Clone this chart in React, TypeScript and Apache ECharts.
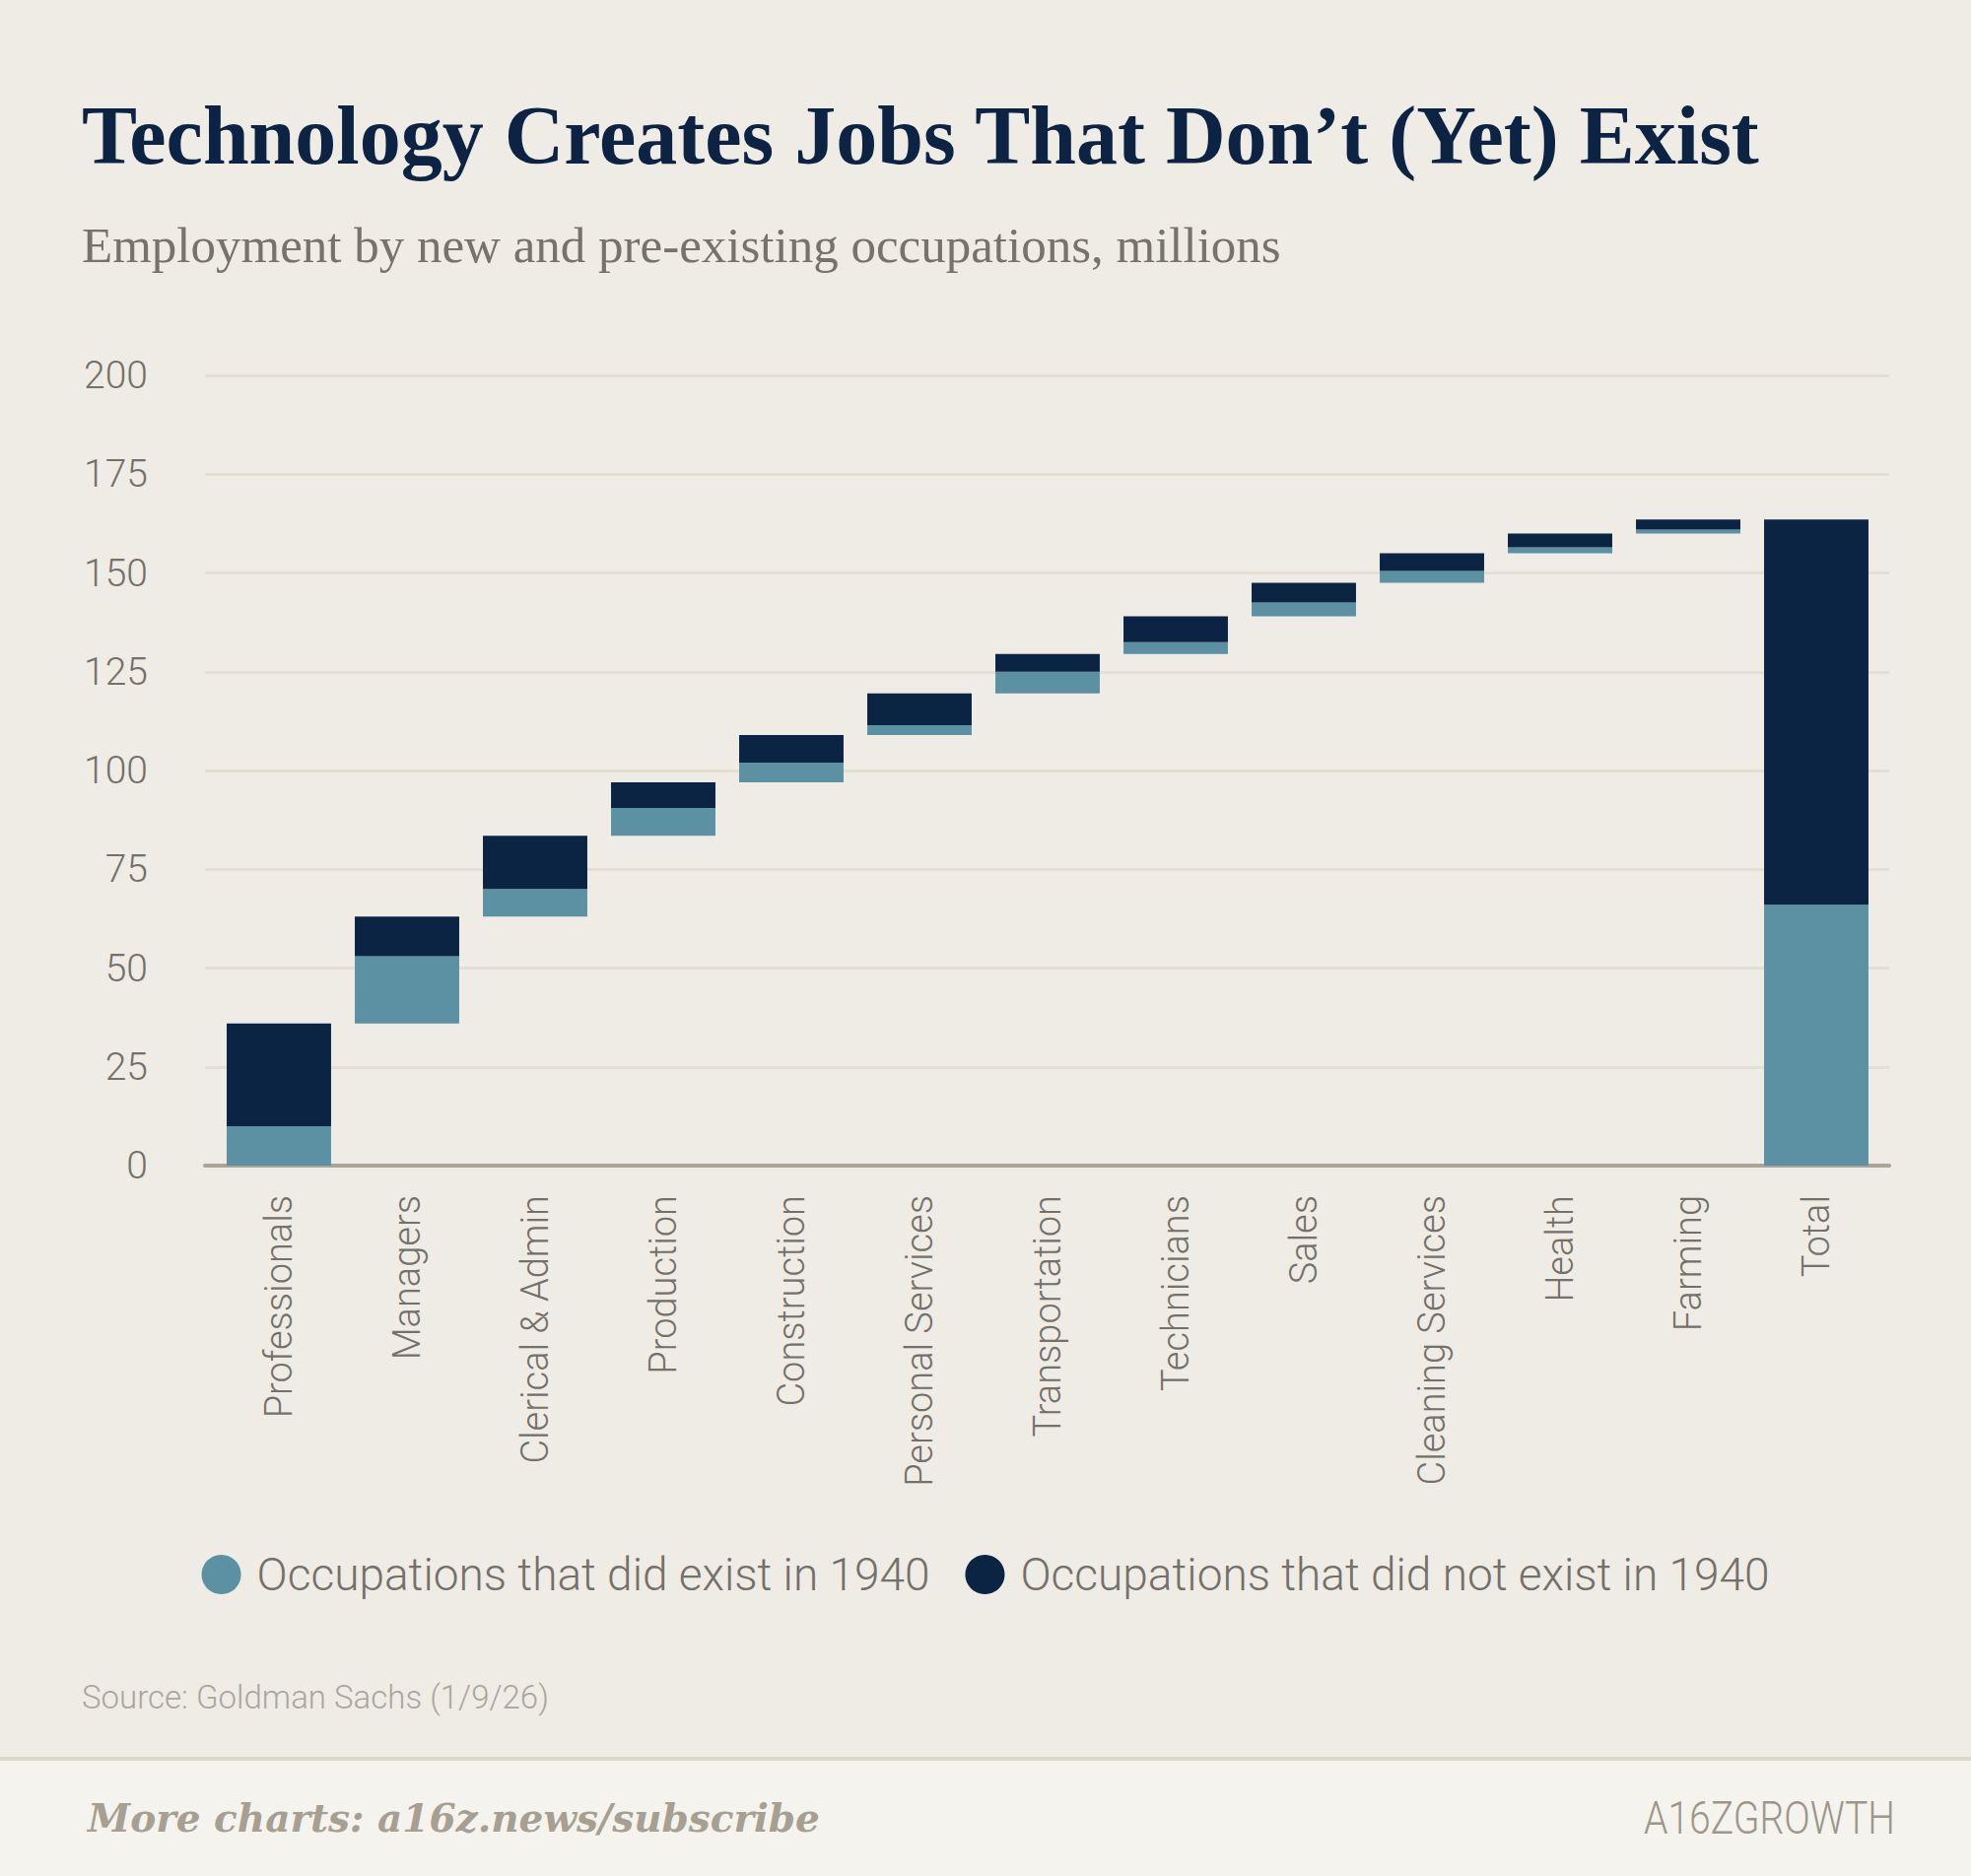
import * as echarts from "echarts";
import { useEffect, useRef } from "react";

// employment, millions
const occupations = [
  "Professionals",
  "Managers",
  "Clerical & Admin",
  "Production",
  "Construction",
  "Personal Services",
  "Transportation",
  "Technicians",
  "Sales",
  "Cleaning Services",
  "Health",
  "Farming",
];
const existed1940 = [10, 17, 7, 7, 5, 2.5, 5.5, 3, 3.5, 3, 1.5, 1];
const notExisted1940 = [26, 10, 13.5, 6.5, 7, 8, 4.5, 6.5, 5, 4.5, 3.5, 2.5];
const yTicks = { min: 0, max: 200, interval: 25 };

const sum = (a: number[]) => a.reduce((s, v) => s + v, 0);

const categories = [...occupations, "Total"];
const existedData = [...existed1940, sum(existed1940)];
const notExistedData = [...notExisted1940, sum(notExisted1940)];
// invisible floor under each waterfall step
const baseData: number[] = [];
let running = 0;
occupations.forEach((_, i) => {
  baseData.push(running);
  running += existed1940[i] + notExisted1940[i];
});
baseData.push(0);

const LIGHT = "#5c90a3";
const DARK = "#0b2444";
const GREY = "#74706a";

export default function App() {
  const chartRef = useRef<HTMLDivElement>(null);

  useEffect(() => {
    if (!chartRef.current) return;
    document.body.style.margin = "0";

    const chart = echarts.init(chartRef.current, null, { renderer: "svg" });

    const option: echarts.EChartsOption = {
      animation: false,
      backgroundColor: "#efece5",
      grid: [
        { left: 208, right: 83, top: 381, bottom: 721 },
        { left: 218, right: 92, top: 381, bottom: 721 },
      ],
      xAxis: [
        {
          gridIndex: 0,
          type: "value",
          min: 0,
          max: 1,
          axisLine: { show: true, onZero: false, lineStyle: { color: "#aaa597", width: 4 } },
          axisTick: { show: false },
          axisLabel: { show: false },
          splitLine: { show: false },
        },
        {
          gridIndex: 1,
          type: "category",
          data: categories,
          axisLine: { show: false },
          axisTick: { show: false },
          axisLabel: {
            rotate: 90,
            margin: 30,
            color: GREY,
            fontSize: 38,
            fontWeight: 300,
            fontFamily: "Roboto",
          },
        },
      ],
      yAxis: [
        {
          gridIndex: 0,
          type: "value",
          ...yTicks,
          axisLine: { show: false },
          axisTick: { show: false },
          axisLabel: { margin: 58, color: GREY, fontSize: 39, fontWeight: 300, fontFamily: "Roboto" },
          splitLine: { lineStyle: { color: "#e3dfd4", width: 3 } },
        },
        { gridIndex: 1, type: "value", ...yTicks, show: false },
      ],
      legend: {
        data: ["Occupations that did exist in 1940", "Occupations that did not exist in 1940"],
        top: 1570,
        left: "center",
        icon: "circle",
        itemWidth: 62,
        itemHeight: 40,
        itemGap: 36,
        textStyle: { color: GREY, fontSize: 46, fontWeight: 300, fontFamily: "Roboto" },
      },
      series: [
        {
          name: "base",
          type: "bar",
          stack: "steps",
          xAxisIndex: 1,
          yAxisIndex: 1,
          data: baseData,
          barCategoryGap: "18.5%",
          itemStyle: { color: "transparent" },
          silent: true,
        },
        {
          name: "Occupations that did exist in 1940",
          type: "bar",
          stack: "steps",
          xAxisIndex: 1,
          yAxisIndex: 1,
          data: existedData,
          itemStyle: { color: LIGHT },
        },
        {
          name: "Occupations that did not exist in 1940",
          type: "bar",
          stack: "steps",
          xAxisIndex: 1,
          yAxisIndex: 1,
          data: notExistedData,
          itemStyle: { color: DARK },
        },
      ],
      graphic: [
        {
          type: "text",
          left: 83,
          top: 95,
          style: {
            text: "Technology Creates Jobs That Don’t (Yet) Exist",
            fill: "#0d2344",
            font: "bold 84px 'Liberation Serif'",
          },
        },
        {
          type: "text",
          left: 83,
          top: 223,
          style: {
            text: "Employment by new and pre-existing occupations, millions",
            fill: "#77726b",
            font: "51px 'Liberation Serif'",
          },
        },
        {
          type: "text",
          left: 83,
          top: 1706,
          style: {
            text: "Source: Goldman Sachs (1/9/26)",
            fill: "#aaa69d",
            font: "300 33px Roboto",
          },
        },
        {
          type: "rect",
          shape: { x: 0, y: 1786, width: 2000, height: 118 },
          style: { fill: "#f5f3ee" },
        },
        {
          type: "line",
          shape: { x1: 0, y1: 1785, x2: 2000, y2: 1785 },
          style: { stroke: "#dcd8ce", lineWidth: 4 },
        },
        {
          type: "text",
          left: 89,
          top: 1825,
          style: {
            text: "More charts: a16z.news/subscribe",
            fill: "#a69f92",
            font: "italic bold 39px 'DejaVu Serif'",
          },
        },
        {
          type: "text",
          x: 1923,
          y: 1845,
          scaleX: 0.85,
          style: {
            text: "A16ZGROWTH",
            fill: "#9d968a",
            font: "300 46px Roboto",
            align: "right",
            verticalAlign: "middle",
          },
        },
      ],
    };

    chart.setOption(option);

    return () => {
      chart.dispose();
    };
  }, []);

  return <div ref={chartRef} style={{ width: "2000px", height: "1904px" }} />;
}
